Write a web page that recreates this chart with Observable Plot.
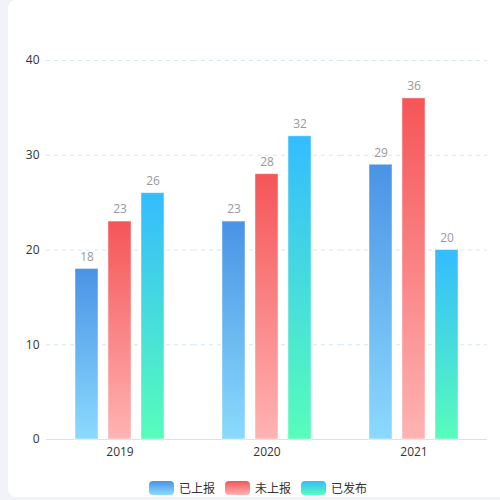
<!DOCTYPE html>
<html>
<head>
<meta charset="utf-8">
<script src="https://cdn.jsdelivr.net/npm/d3@7"></script>
<script src="https://cdn.jsdelivr.net/npm/@observablehq/plot@0.6"></script>
<style>
  html, body { margin: 0; padding: 0; width: 500px; height: 500px; overflow: hidden; background: #f2f3f8; font-family: "Open Sans", "Noto Sans CJK SC", sans-serif; }
  #card { position: absolute; left: 8px; top: 0; width: 510px; height: 497px; background: #fff; border-radius: 8px; }
  #chart { position: absolute; left: 0; top: 0; }
  #legend { position: absolute; left: 149px; top: 481px; display: flex; align-items: center; font-size: 12px; color: #333; line-height: 14px; font-family: "Noto Sans CJK SC", sans-serif; }
  .item { display: flex; align-items: center; margin-right: 10px; }
  .sw { width: 25px; height: 14px; border-radius: 4px; margin-right: 5px; }
</style>
</head>
<body>
<div id="card"></div>
<div id="chart"></div>
<div id="legend"></div>
<script>
const years = ["2019", "2020", "2021"];
const series = ["已上报", "未上报", "已发布"];
const reported = [18, 23, 29];
const unreported = [23, 28, 36];
const published = [26, 32, 20];
const yTicks = [0, 10, 20, 30, 40];
const topColors = ["#4a93e5", "#f55557", "#34bcfe"];
const bottomColors = ["#8bdafd", "#ffb3b3", "#57fdbb"];

const seriesValues = [reported, unreported, published];
const data = years.flatMap((year, i) => series.map((s, j) => ({year, series: s, value: seriesValues[j][i]})));
const gradIds = series.map((_, j) => `grad${j}`);

const plot = Plot.plot({
  width: 500,
  height: 470,
  marginTop: 60,
  marginBottom: 31,
  marginLeft: 45,
  marginRight: 13,
  style: "background:transparent;overflow:visible;font-family:'Open Sans','Noto Sans CJK SC',sans-serif;font-size:12px;color:#333;",
  fx: {domain: years, padding: 0, label: null, axis: "bottom", tickSize: 0, tickPadding: 8},
  x: {domain: series, paddingInner: 0.29, paddingOuter: 0.824, axis: null},
  y: {domain: [0, 40], ticks: yTicks, tickSize: 0, tickPadding: 7, label: null},
  color: {domain: series, range: gradIds.map(id => `url(#${id})`)},
  marks: [
    Plot.ruleY(yTicks.filter(d => d > 0), {stroke: "#d6e7f7", strokeDasharray: "4,4"}),
    Plot.ruleY([0], {stroke: "#cfe4f7"}),
    Plot.barY(data, {fx: "year", x: "series", y: "value", fill: "series", stroke: "rgba(255,255,255,0.45)", strokeWidth: 1}),
    Plot.text(data, {fx: "year", x: "series", y: "value", text: d => String(d.value), dy: -12, fill: "#999", fontSize: 12})
  ]
});

// gradient definitions
const ns = "http://www.w3.org/2000/svg";
const defs = document.createElementNS(ns, "defs");
series.forEach((s, j) => {
  const g = document.createElementNS(ns, "linearGradient");
  g.setAttribute("id", gradIds[j]);
  g.setAttribute("x1", "0"); g.setAttribute("y1", "0");
  g.setAttribute("x2", "0"); g.setAttribute("y2", "1");
  const s1 = document.createElementNS(ns, "stop");
  s1.setAttribute("offset", "0"); s1.setAttribute("stop-color", topColors[j]);
  const s2 = document.createElementNS(ns, "stop");
  s2.setAttribute("offset", "1"); s2.setAttribute("stop-color", bottomColors[j]);
  g.appendChild(s1); g.appendChild(s2);
  defs.appendChild(g);
});
plot.insertBefore(defs, plot.firstChild);
document.getElementById("chart").appendChild(plot);

// legend
const legend = d3.select("#legend");
series.forEach((s, j) => {
  const item = legend.append("div").attr("class", "item");
  item.append("div").attr("class", "sw")
    .style("background", `linear-gradient(to bottom, ${topColors[j]}, ${bottomColors[j]})`);
  item.append("span").text(s);
});
</script>
</body>
</html>
